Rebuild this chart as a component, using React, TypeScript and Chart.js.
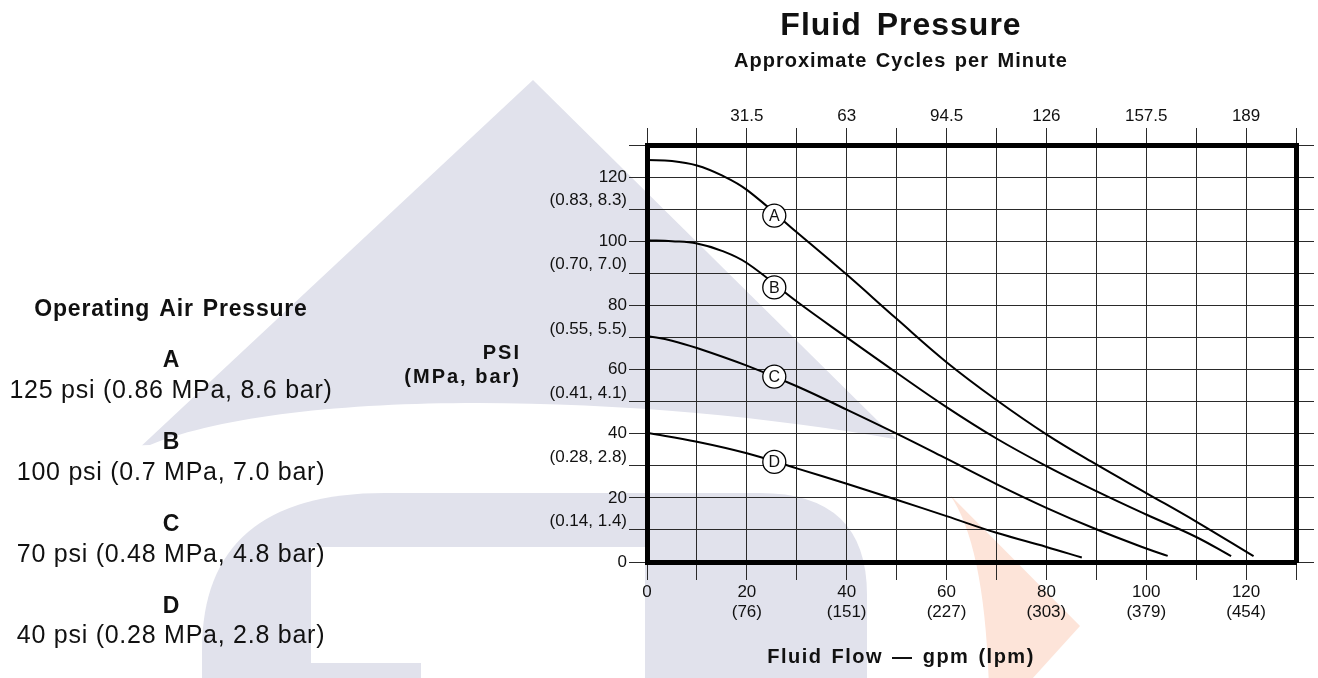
import React, { useEffect, useRef } from 'react';
import { Chart, registerables } from 'chart.js';

Chart.register(...registerables);

const W = 1318;
const H = 678;
const FONT = '"Liberation Sans", Arial, Helvetica, sans-serif';

// ---- axis tick labels ----
const GPM_LABELS = [0, 20, 40, 60, 80, 100, 120];
const LPM_LABELS = ['', '(76)', '(151)', '(227)', '(303)', '(379)', '(454)'];
const CPM_LABELS = ['', '31.5', '63', '94.5', '126', '157.5', '189'];
const PSI_LABELS = [0, 20, 40, 60, 80, 100, 120];
const MPA_BAR_LABELS = ['', '(0.14, 1.4)', '(0.28, 2.8)', '(0.41, 4.1)', '(0.55, 5.5)', '(0.70, 7.0)', '(0.83, 8.3)'];

// ---- series (flow gpm, fluid pressure psi) ----
const SERIES_NAMES = ['A', 'B', 'C', 'D'];
const FLOW_A = [0, 5, 10, 15, 20, 30, 40, 50, 60, 70, 80, 90, 100, 110, 121.5];
const PSI_A = [125.3, 125, 123.6, 120.5, 116, 102.8, 89.6, 75.8, 62.3, 50.5, 39.8, 30.4, 21.5, 12.6, 1.8];
const FLOW_B = [0, 5, 10, 15, 20, 30, 40, 50, 60, 70, 80, 90, 100, 110, 117];
const PSI_B = [100.3, 100, 99.3, 97, 93.2, 81.2, 70, 59, 48.3, 38.5, 29.9, 22.1, 14.8, 7.8, 1.8];
const FLOW_C = [0, 5, 10, 20, 30, 40, 50, 60, 70, 80, 90, 100, 104.3];
const PSI_C = [70.5, 69, 66.7, 61.2, 54.8, 47.5, 40, 32.2, 24.3, 16.9, 10.2, 4.2, 1.9];
const FLOW_D = [0, 10, 20, 30, 40, 50, 60, 70, 80, 87.1];
const PSI_D = [40.3, 37.5, 33.9, 29.2, 24.4, 19.4, 14.3, 9.1, 4.7, 1.4];

// circled curve labels
const MARKER_FLOW = [25.5, 25.5, 25.5, 25.5];
const MARKER_PSI = [108, 85.6, 57.8, 31.2];

// ---- free text ----
const TITLE = 'Fluid Pressure';
const TOP_AXIS_TITLE = 'Approximate Cycles per Minute';
const BOTTOM_AXIS_TITLE = 'Fluid Flow \u2014 gpm (lpm)';
const Y_AXIS_TITLE = ['PSI', '(MPa, bar)'];
const LEGEND_TITLE = 'Operating Air Pressure';
const LEGEND_TEXT = [
  '125 psi (0.86 MPa, 8.6 bar)',
  '100 psi (0.7 MPa, 7.0 bar)',
  '70 psi (0.48 MPa, 4.8 bar)',
  '40 psi (0.28 MPa, 2.8 bar)',
];

const toPoints = (xs: number[], ys: number[]) => xs.map((x, i) => ({ x, y: ys[i] }));

function setSpacing(ctx: any, ls: number, ws: number) {
  if ('letterSpacing' in ctx) ctx.letterSpacing = ls + 'px';
  if ('wordSpacing' in ctx) ctx.wordSpacing = ws + 'px';
}

const watermarkPlugin = {
  id: 'watermark',
  beforeDraw(chart: any) {
    const ctx = chart.ctx as CanvasRenderingContext2D;
    ctx.save();
    ctx.fillStyle = '#ffffff';
    ctx.fillRect(0, 0, W, H);
    const gray = '#e1e2ec';
    // big triangle
    ctx.fillStyle = gray;
    ctx.beginPath();
    ctx.moveTo(533, 80);
    ctx.lineTo(1150, 690);
    ctx.lineTo(-120, 690);
    ctx.closePath();
    ctx.fill();
    // white arch band
    ctx.fillStyle = '#ffffff';
    ctx.beginPath();
    ctx.moveTo(-10, 450);
    ctx.lineTo(150, 445);
    ctx.bezierCurveTo(300, 385, 650, 395, 900, 440);
    ctx.lineTo(1318, 440);
    ctx.lineTo(1318, 690);
    ctx.lineTo(-10, 690);
    ctx.closePath();
    ctx.fill();
    // inner arch
    ctx.fillStyle = gray;
    ctx.beginPath();
    ctx.moveTo(202, 690);
    ctx.lineTo(202, 650);
    ctx.quadraticCurveTo(202, 493, 385, 493);
    ctx.lineTo(760, 493);
    ctx.quadraticCurveTo(867, 493, 867, 595);
    ctx.lineTo(867, 690);
    ctx.closePath();
    ctx.fill();
    ctx.fillStyle = '#ffffff';
    ctx.fillRect(311, 547, 645 - 311, 663 - 547);
    ctx.fillRect(421, 662, 645 - 421, 30);
    // orange flame
    ctx.fillStyle = '#fde4d9';
    ctx.beginPath();
    ctx.moveTo(950, 495);
    ctx.quadraticCurveTo(985, 545, 989, 690);
    ctx.lineTo(1022, 690);
    ctx.lineTo(1080, 626);
    ctx.closePath();
    ctx.fill();
    ctx.restore();
  },
};

const textPlugin = {
  id: 'freeText',
  afterDatasetsDraw(chart: any) {
    const ctx = chart.ctx as CanvasRenderingContext2D;
    const xs = chart.scales.x;
    const ys = chart.scales.y;
    ctx.save();
    ctx.fillStyle = '#111';
    ctx.font = `16px ${FONT}`;
    ctx.textAlign = 'center';
    ctx.textBaseline = 'middle';
    SERIES_NAMES.forEach((n, i) => {
      const px = xs.getPixelForValue(MARKER_FLOW[i]);
      const py = ys.getPixelForValue(MARKER_PSI[i]);
      ctx.fillText(n, px, py + 1);
    });
    ctx.restore();
  },
  afterDraw(chart: any) {
    const ctx = chart.ctx as CanvasRenderingContext2D;
    ctx.save();
    ctx.fillStyle = '#111';
    ctx.textBaseline = 'alphabetic';
    // titles
    ctx.textAlign = 'center';
    ctx.font = `bold 32px ${FONT}`;
    setSpacing(ctx, 1, 5);
    ctx.fillText(TITLE, 901, 35);
    ctx.font = `bold 20px ${FONT}`;
    setSpacing(ctx, 1, 2);
    ctx.fillText(TOP_AXIS_TITLE, 901, 67);
    setSpacing(ctx, 1.5, 2);
    ctx.fillText(BOTTOM_AXIS_TITLE, 901, 663);
    // y-axis title
    ctx.textAlign = 'right';
    setSpacing(ctx, 2, 0);
    ctx.fillText(Y_AXIS_TITLE[0], 521, 358.5);
    ctx.fillText(Y_AXIS_TITLE[1], 521, 383);
    // legend
    ctx.textAlign = 'center';
    ctx.font = `bold 23px ${FONT}`;
    setSpacing(ctx, 0.8, 2);
    ctx.fillText(LEGEND_TITLE, 171, 316);
    const letterBase = [367, 448.5, 530.5, 612.5];
    const textBase = [398, 480, 561.5, 643];
    SERIES_NAMES.forEach((n, i) => {
      ctx.font = `bold 23px ${FONT}`;
      setSpacing(ctx, 0, 0);
      ctx.fillText(n, 171, letterBase[i]);
      ctx.font = `25px ${FONT}`;
      setSpacing(ctx, 0.75, 0);
      ctx.fillText(LEGEND_TEXT[i], 171, textBase[i]);
    });
    ctx.restore();
  },
};

export default function App() {
  const ref = useRef<HTMLCanvasElement>(null);

  useEffect(() => {
    const canvas = ref.current;
    if (!canvas) return;
    const gridColor = '#2a2a2a';
    const tickFont = { family: FONT, size: 17 };
    const curveStyle = {
      borderColor: '#000',
      borderWidth: 2,
      pointRadius: 0,
      fill: false,
      tension: 0.4,
      order: 1,
    };
    const chart = new Chart(canvas, {
      type: 'line',
      data: {
        datasets: [
          {
            label: 'markers',
            data: toPoints(MARKER_FLOW, MARKER_PSI),
            showLine: false,
            pointRadius: 11.5,
            pointBorderWidth: 1.3,
            pointBackgroundColor: '#fff',
            pointBorderColor: '#000',
            order: 0,
          } as any,
          { label: SERIES_NAMES[0], data: toPoints(FLOW_A, PSI_A), ...curveStyle },
          { label: SERIES_NAMES[1], data: toPoints(FLOW_B, PSI_B), ...curveStyle },
          { label: SERIES_NAMES[2], data: toPoints(FLOW_C, PSI_C), ...curveStyle },
          { label: SERIES_NAMES[3], data: toPoints(FLOW_D, PSI_D), ...curveStyle },
        ],
      },
      options: {
        responsive: false,
        animation: false,
        devicePixelRatio: 1,
        layout: { padding: 0 },
        plugins: {
          legend: { display: false },
          tooltip: { enabled: false },
          title: { display: false },
        },
        events: [],
        scales: {
          x: {
            type: 'linear',
            position: 'bottom',
            min: 0,
            max: 130,
            grid: { color: gridColor, lineWidth: 1, tickLength: 18, drawTicks: true },
            border: { display: true, color: '#000', width: 5 },
            ticks: {
              stepSize: 10,
              autoSkip: false,
              maxRotation: 0,
              padding: 2,
              color: '#111',
              font: tickFont,
              callback: (value: any) => {
                const v = Math.round(Number(value));
                const i = GPM_LABELS.indexOf(v);
                if (i < 0) return '';
                if (i === 0) return String(v);
                return [String(v), LPM_LABELS[i]];
              },
            },
            afterFit: (s: any) => { s.height = H - 562; },
          },
          x2: {
            type: 'linear',
            position: 'top',
            min: 0,
            max: 130,
            grid: { color: gridColor, lineWidth: 1, tickLength: 17, drawOnChartArea: false, drawTicks: true },
            border: { display: true, color: '#000', width: 5 },
            ticks: {
              stepSize: 10,
              autoSkip: false,
              maxRotation: 0,
              padding: 1,
              color: '#111',
              font: tickFont,
              callback: (value: any) => {
                const v = Math.round(Number(value));
                const i = GPM_LABELS.indexOf(v);
                return i > 0 ? CPM_LABELS[i] : '';
              },
            },
            afterFit: (s: any) => { s.height = 145; },
          },
          y: {
            type: 'linear',
            position: 'left',
            min: 0,
            max: 130,
            grid: { color: gridColor, lineWidth: 1, tickLength: 18, drawTicks: true },
            border: { display: true, color: '#000', width: 5 },
            ticks: {
              stepSize: 10,
              autoSkip: false,
              padding: 2,
              color: '#111',
              font: { family: FONT, size: 17, lineHeight: 1.0 },
              callback: (value: any) => {
                const v = Math.round(Number(value));
                if (v % 20 === 0) {
                  const i = PSI_LABELS.indexOf(v);
                  return i >= 0 ? String(v) : '';
                }
                const j = (v + 10) / 20;
                if (j >= 1 && j < MPA_BAR_LABELS.length) return [MPA_BAR_LABELS[j], ''];
                return '';
              },
            },
            afterFit: (s: any) => { s.width = 647; },
          },
          y2: {
            type: 'linear',
            position: 'right',
            min: 0,
            max: 130,
            grid: { color: gridColor, lineWidth: 1, tickLength: 18, drawOnChartArea: false, drawTicks: true },
            border: { display: true, color: '#000', width: 5 },
            ticks: {
              stepSize: 10,
              autoSkip: false,
              padding: 0,
              font: tickFont,
              callback: () => '',
            },
            afterFit: (s: any) => { s.width = W - 1296; },
          },
        },
      } as any,
      plugins: [watermarkPlugin, textPlugin],
    });
    return () => chart.destroy();
  }, []);

  return (
    <div style={{ position: 'fixed', left: 0, top: 0, width: W, height: H, background: '#fff' }}>
      <canvas ref={ref} width={W} height={H} style={{ width: W, height: H, display: 'block' }} />
    </div>
  );
}
